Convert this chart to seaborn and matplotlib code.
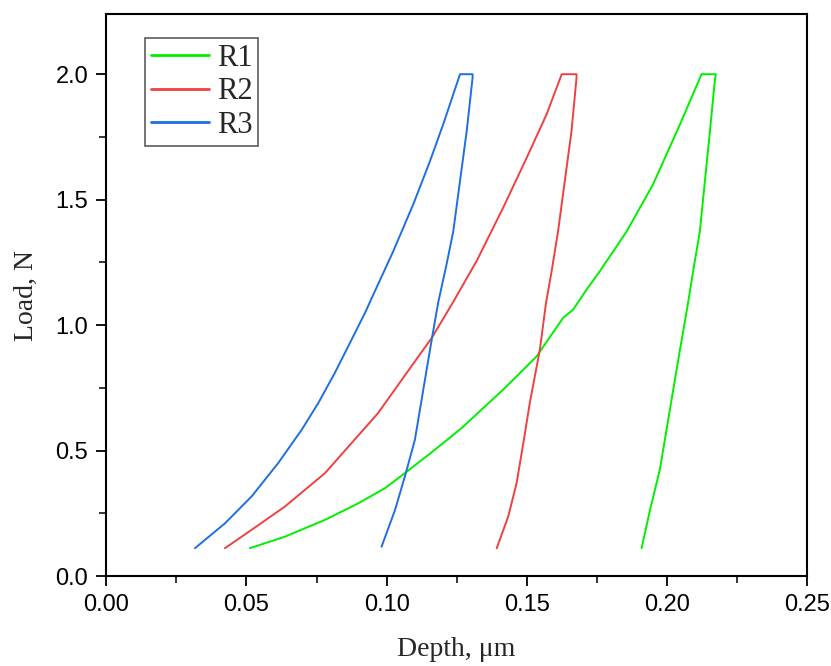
import matplotlib
matplotlib.use('Agg')
import numpy as np
import pandas as pd
import matplotlib.pyplot as plt
import seaborn as sns
from matplotlib.ticker import MultipleLocator

# loading -> hold -> unloading
r1_depth = [0.0512, 0.0637, 0.0780, 0.0899, 0.0994, 0.1065, 0.1172, 0.1268, 0.1351, 0.1416,
            0.1464, 0.1535, 0.1630, 0.1666, 0.1714, 0.1761, 0.1857, 0.1951, 0.2047, 0.2124,
            0.2175,
            0.2172, 0.2154, 0.2136, 0.2118, 0.2094, 0.2076, 0.2047, 0.2023, 0.1999, 0.1975,
            0.1940, 0.1910]
r1_load = [0.111, 0.157, 0.224, 0.290, 0.350, 0.410, 0.503, 0.590, 0.676, 0.743,
           0.796, 0.875, 1.029, 1.062, 1.142, 1.215, 1.374, 1.561, 1.800, 2.000,
           2.000,
           1.980, 1.774, 1.574, 1.374, 1.215, 1.089, 0.902, 0.743, 0.583, 0.423,
           0.263, 0.111]

r2_depth = [0.0423, 0.0518, 0.0637, 0.0780, 0.0875, 0.0970, 0.1054, 0.1161, 0.1236, 0.1321,
            0.1416, 0.1500, 0.1571, 0.1625,
            0.1678,
            0.1678, 0.1660, 0.1636, 0.1612, 0.1589, 0.1569, 0.1547, 0.1511, 0.1488, 0.1464,
            0.1434, 0.1393]
r2_load = [0.111, 0.184, 0.277, 0.410, 0.530, 0.650, 0.782, 0.949, 1.089, 1.255,
           1.468, 1.667, 1.840, 2.000,
           2.000,
           1.987, 1.774, 1.574, 1.374, 1.215, 1.089, 0.902, 0.689, 0.530, 0.370,
           0.237, 0.111]

r3_depth = [0.0316, 0.0423, 0.0518, 0.0613, 0.0697, 0.0756, 0.0815, 0.0875, 0.0923, 0.0961,
            0.1024, 0.1095, 0.1155, 0.1202, 0.1262,
            0.1307,
            0.1307, 0.1286, 0.1262, 0.1238, 0.1214, 0.1184, 0.1161, 0.1131, 0.1101, 0.1065,
            0.1030, 0.0982]
r3_load = [0.111, 0.210, 0.317, 0.450, 0.583, 0.689, 0.809, 0.942, 1.049, 1.142,
           1.295, 1.481, 1.654, 1.800, 2.000,
           2.000,
           1.987, 1.774, 1.574, 1.374, 1.242, 1.089, 0.942, 0.743, 0.543, 0.396,
           0.263, 0.117]

samples = ['R1', 'R2', 'R3']
colors = ['#00f000', '#f04040', '#1f6fe0']

frames = []
for name, d, l in zip(samples, [r1_depth, r2_depth, r3_depth], [r1_load, r2_load, r3_load]):
    frames.append(pd.DataFrame({'depth': d, 'load': l, 'sample': name}))
df = pd.concat(frames, ignore_index=True)

sns.set_theme(style='ticks')
plt.rcParams['font.family'] = ['Liberation Sans', 'DejaVu Sans']

fig = plt.figure(figsize=(8.31, 6.66), dpi=100)
ax = fig.add_axes([0.128, 0.135, 0.843, 0.844])

sns.lineplot(data=df, x='depth', y='load', hue='sample', hue_order=samples,
             palette=colors, sort=False, estimator=None, linewidth=1.4, ax=ax)

ax.set_xlim(0, 0.25)
ax.set_ylim(0, 2.24)
ax.xaxis.set_major_locator(MultipleLocator(0.05))
ax.xaxis.set_minor_locator(MultipleLocator(0.025))
ax.yaxis.set_major_locator(MultipleLocator(0.5))
ax.yaxis.set_minor_locator(MultipleLocator(0.25))
ax.set_xticklabels(['%.2f' % v for v in ax.get_xticks()])
ax.set_yticklabels(['%.1f' % v for v in ax.get_yticks()])
ax.tick_params(which='major', direction='out', length=7, width=1.3, labelsize=17,
               colors='black', pad=6)
ax.tick_params(which='minor', direction='out', length=5, width=1.3)
ax.tick_params(top=False, right=False, which='both')
for s in ax.spines.values():
    s.set_linewidth(1.5)
    s.set_color('black')
    s.set_visible(True)

ax.set_xlabel('Depth, μm', fontsize=20, family='Liberation Serif', labelpad=15)
ax.set_ylabel('Load, N', fontsize=20, family='Liberation Serif', labelpad=12)

leg = ax.legend(loc='upper left', bbox_to_anchor=(0.042, 0.974), frameon=True, fancybox=False,
                prop={'family': 'Liberation Serif', 'size': 22}, handlelength=1.9,
                labelspacing=0.15, borderpad=0.2, handletextpad=0.25, borderaxespad=0.3)
leg.get_frame().set_edgecolor('#333333')
leg.get_frame().set_linewidth(1.2)
for line in leg.get_lines():
    line.set_linewidth(2.0)

fig.savefig('out.png', dpi=100)
